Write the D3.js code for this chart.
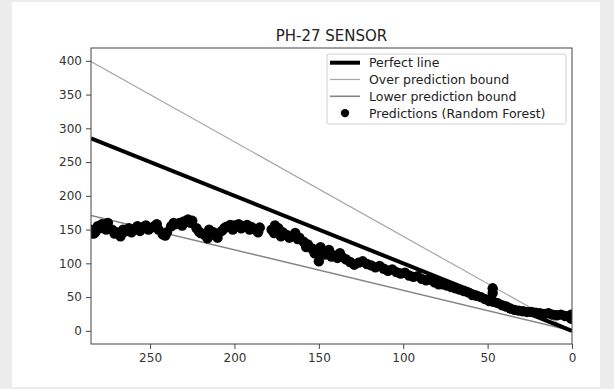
<!DOCTYPE html>
<html>
<head>
<meta charset="utf-8">
<script src="https://cdn.jsdelivr.net/npm/d3@7"></script>
<style>
  body { margin: 0; background: #ececec; }
  svg { display: block; font-family: "DejaVu Sans", sans-serif; }
</style>
</head>
<body>
<svg id="chart" width="614" height="389"></svg>
<script>
// reference lines (x = actual value, axis reversed)
let lineX = [285, 0];
let perfectY = [285, 0];
let overY = [399, 0];
let lowerY = [171, 0];

// Random Forest predictions
let predX = [285, 283.5, 282.5, 281, 280, 278.5, 277.5, 276, 275, 272.5, 271, 270, 267.5, 266, 265, 262.5, 261, 260,
    257.5, 256, 255, 252.5, 251, 250, 247.5, 246, 245, 242.5, 241, 240, 237.5, 236, 235, 232.5, 231, 230, 227.5, 226,
    225, 222.5, 221, 220, 217.5, 216, 215, 212.5, 211, 210, 207.5, 206, 205, 202.5, 201, 200, 197.5, 196, 195, 192.5,
    191, 190, 187.5, 186, 185, 178, 176.5, 176, 174, 172.5, 171.5, 169, 167.5, 166.5, 164, 162.5, 161.5, 159, 157.5,
    156.5, 154, 152.5, 151.5, 150, 149, 147.5, 146.5, 144, 142.5, 141.5, 139, 137.5, 136.5, 134, 131.5, 129, 126.5,
    124, 121.5, 119, 116.5, 114, 111.5, 109, 106.5, 104, 101.5, 99, 96.5, 94, 91.5, 89, 86.5, 84, 81.5, 79, 76.5, 74,
    71.5, 69, 66.5, 64, 61.5, 59, 56.5, 54, 51.5, 49, 47, 47, 46.5, 44, 41.5, 39, 36.5, 34, 31.5, 29, 26.5, 24, 21.5,
    19, 16.5, 14, 11.5, 9, 6.5, 4, 1.5, 0.5, 0.5];
let predY = [150, 144, 146, 155, 152, 158, 157, 150, 160, 150, 144, 146, 140, 150, 147, 152, 146, 150,
    155, 148, 153, 156, 150, 152, 155, 158, 150, 143, 141, 146, 155, 160, 158, 160, 156, 162, 165, 160,
    163, 152, 147, 145, 142, 137, 150, 146, 141, 138, 148, 152, 154, 157, 150, 156, 158, 152, 155, 157,
    150, 154, 150, 146, 153, 150, 145, 156, 152, 140, 146, 142, 138, 140, 145, 136, 138, 132, 124,
    128, 122, 115, 118, 103, 124, 116, 113, 120, 110, 112, 108, 115, 110, 106, 102, 98, 101,
    103, 99, 97, 94, 96, 92, 89, 91, 87, 85, 86, 82, 80, 81, 77, 75, 76, 72, 69, 69, 67,
    65, 63, 61, 59, 57, 53, 52, 50, 47, 44, 63, 56, 43, 41, 38, 36, 33, 31, 30, 29, 28, 28, 27,
    26, 25, 26, 24, 23, 24, 22, 21, 18, 24];

let xTicks = [250, 200, 150, 100, 50, 0];
let yTicks = [0, 50, 100, 150, 200, 250, 300, 350, 400];

let legendItems = [
    {label: "Perfect line", type: "line", color: "#000", width: 4},
    {label: "Over prediction bound", type: "line", color: "#a6a6a6", width: 1.2},
    {label: "Lower prediction bound", type: "line", color: "#858585", width: 1.6},
    {label: "Predictions (Random Forest)", type: "dot", color: "#000"}
];

const svg = d3.select("#chart");

// white card on grey page
svg.append("rect")
    .attr("x", 12).attr("y", 2)
    .attr("width", 588).attr("height", 385)
    .attr("fill", "white");

const margin = {left: 91, right: 42, top: 48, bottom: 45};
const plotW = 614 - margin.left - margin.right,
    plotH = 389 - margin.top - margin.bottom;

const x = d3.scaleLinear().domain([285, 0]).range([0, plotW]);
const y = d3.scaleLinear().domain([-19.5, 419]).range([plotH, 0]);

const g = svg.append("g").attr("transform", `translate(${margin.left},${margin.top})`);

g.append("clipPath").attr("id", "clip")
    .append("rect").attr("width", plotW).attr("height", plotH);

const plot = g.append("g").attr("clip-path", "url(#clip)");

const line = d3.line().x(d => x(d[0])).y(d => y(d[1]));

// bounds
plot.append("path")
    .attr("d", line(lineX.map((v, i) => [v, overY[i]])))
    .attr("fill", "none").attr("stroke", "#a6a6a6").attr("stroke-width", 1.2);
plot.append("path")
    .attr("d", line(lineX.map((v, i) => [v, lowerY[i]])))
    .attr("fill", "none").attr("stroke", "#858585").attr("stroke-width", 1.6);

// perfect line
plot.append("path")
    .attr("d", line(lineX.map((v, i) => [v, perfectY[i]])))
    .attr("fill", "none").attr("stroke", "#000").attr("stroke-width", 4);

// predictions
plot.selectAll("circle.pred")
    .data(predX.map((v, i) => [v, predY[i]]))
    .join("circle")
    .attr("class", "pred")
    .attr("cx", d => x(d[0]))
    .attr("cy", d => y(d[1]))
    .attr("r", 5.2)
    .attr("fill", "#000");

// axes
const xAxis = g.append("g")
    .attr("transform", `translate(0,${plotH})`)
    .call(d3.axisBottom(x).tickValues(xTicks).tickSize(5).tickPadding(4));
const yAxis = g.append("g")
    .call(d3.axisLeft(y).tickValues(yTicks).tickSize(5).tickPadding(4));

[xAxis, yAxis].forEach(a => {
    a.select(".domain").remove();
    a.selectAll("line").attr("stroke", "#444");
    a.selectAll("text").attr("fill", "#333").attr("font-size", 12)
        .attr("font-family", "DejaVu Sans, sans-serif");
});

// frame
g.append("rect")
    .attr("width", plotW).attr("height", plotH)
    .attr("fill", "none").attr("stroke", "#444").attr("stroke-width", 1);

// title
svg.append("text")
    .attr("x", margin.left + plotW / 2)
    .attr("y", 41)
    .attr("text-anchor", "middle")
    .attr("font-size", 15)
    .attr("fill", "#222")
    .text("PH-27 SENSOR");

// legend
const lg = svg.append("g").attr("transform", "translate(327,54)");
lg.append("rect")
    .attr("width", 239).attr("height", 70)
    .attr("rx", 2)
    .attr("fill", "white").attr("fill-opacity", 0.8)
    .attr("stroke", "#d0d0d0");

legendItems.forEach((item, i) => {
    let cy = 8.7 + i * 16.8;
    if (item.type === "line") {
        lg.append("line")
            .attr("x1", 3).attr("x2", 33)
            .attr("y1", cy).attr("y2", cy)
            .attr("stroke", item.color).attr("stroke-width", item.width);
    } else {
        lg.append("circle")
            .attr("cx", 18).attr("cy", cy).attr("r", 4.2)
            .attr("fill", item.color);
    }
    lg.append("text")
        .attr("x", 42).attr("y", cy)
        .attr("dominant-baseline", "central")
        .attr("font-size", 12.5)
        .attr("fill", "#222")
        .text(item.label);
});
</script>
</body>
</html>
